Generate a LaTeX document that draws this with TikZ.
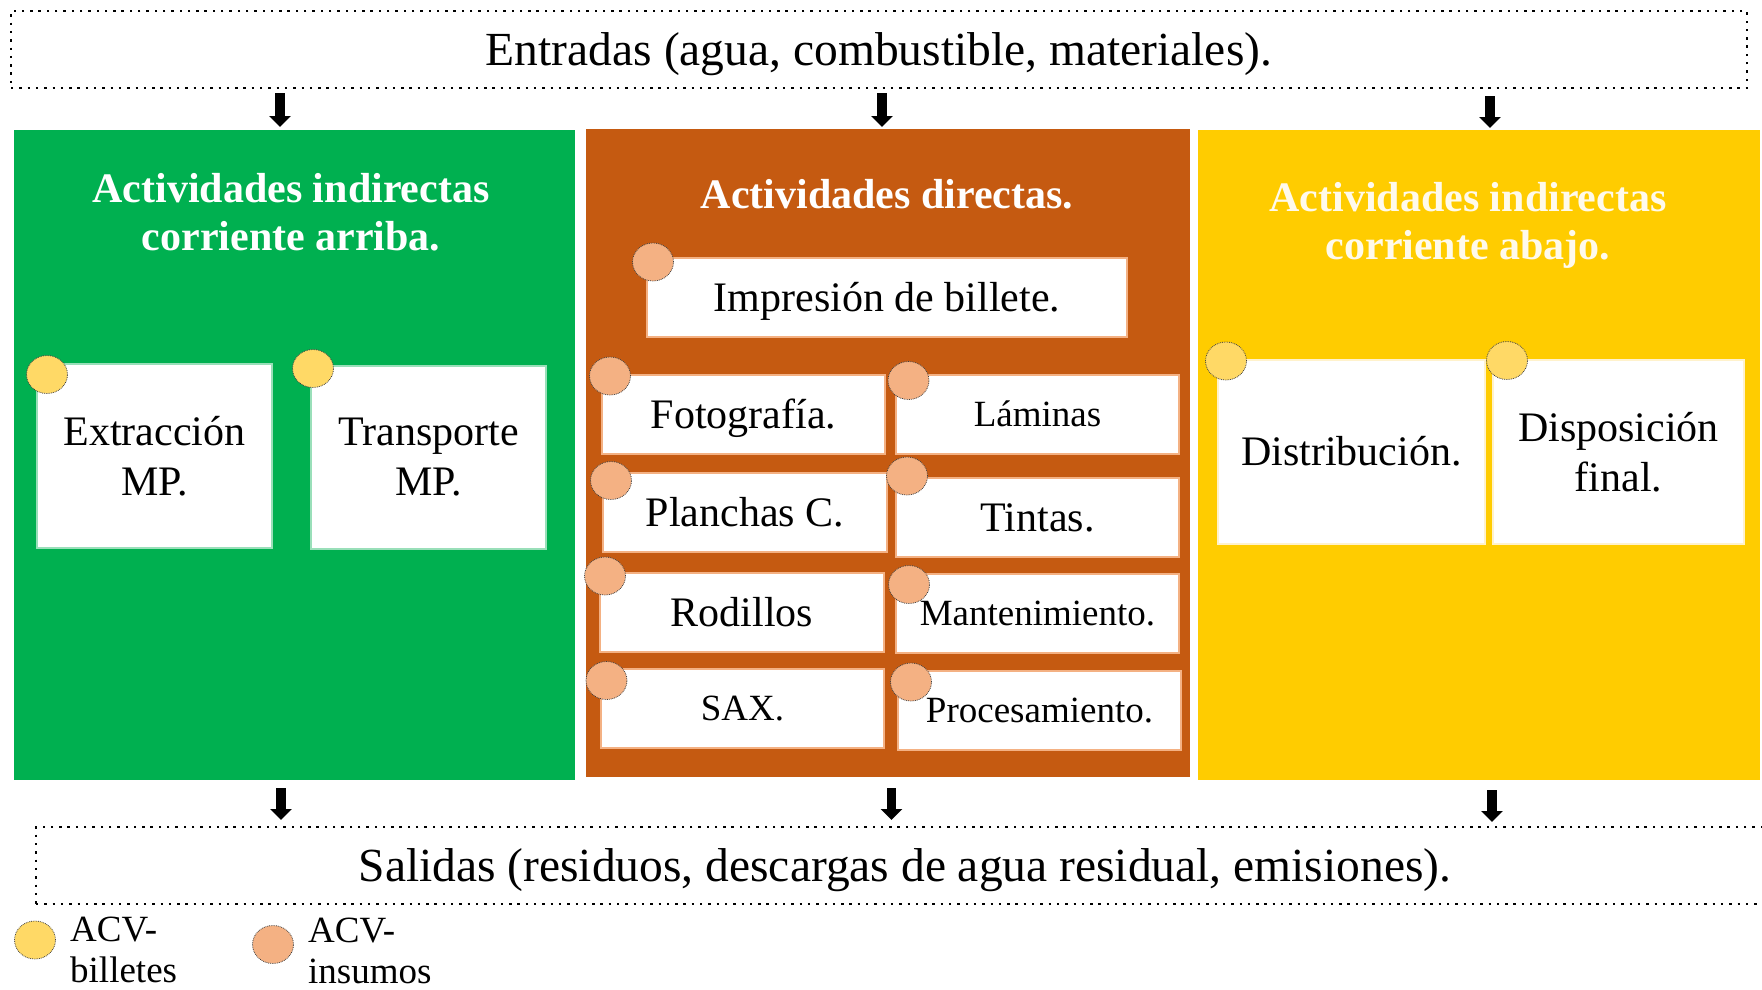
\documentclass[tikz,border=0pt]{standalone}
\usepackage{fontspec}
\setmainfont{Liberation Serif}
\usetikzlibrary{shapes.geometric,arrows.meta}
\definecolor{cgreen}{HTML}{00B050}
\definecolor{corange}{HTML}{C55A11}
\definecolor{cyellow}{HTML}{FFCC00}
\definecolor{cyelc}{HTML}{FFD966}
\definecolor{corac}{HTML}{F4B183}
\definecolor{ctitle}{HTML}{FFFAEB}
\definecolor{cyelb}{HTML}{FFF2CC}
\newcommand\fsz[2]{\fontsize{#1}{#2}\selectfont}
\begin{document}
\begin{tikzpicture}[x=1pt,y=-1pt,
  panel/.style={inner sep=0pt, outer sep=0pt, draw=none},
  dotbox/.style={draw=black, line width=2.4pt, dash pattern=on 2.4pt off 5.9pt, inner sep=0pt, font=\fsz{47.5}{56}, text height=31.4pt, text depth=0pt},
  wbox/.style={fill=white, draw=#1, line width=1.2pt, inner sep=0pt, outer sep=0pt, minimum height=79pt, align=center, font=\fsz{42}{50}},
  one/.style={text height=#1, text depth=0pt},
  small/.style={font=\fsz{37}{44}},
  ttl/.style={text=white, font=\fsz{42}{48}\bfseries, align=center, inner sep=0pt},
  dotc/.style={ellipse, minimum width=41pt, minimum height=38pt, inner sep=0pt, fill=#1, draw=black!75, densely dotted, line width=0.8pt},
  bigarrow/.style={line width=9.5pt, -{Triangle[width=21pt,length=11pt]}},
  legtxt/.style={font=\fsz{37}{41}, align=left, inner sep=0pt, anchor=west}
]
\path[use as bounding box] (0,0) rectangle (1762,989);
\clip (0,0) rectangle (1762,989);

% top and bottom boxes
\node[dotbox, minimum width=1736pt, minimum height=77pt] (entr) at (879,49.5) {Entradas (agua, combustible, materiales).};
\node[dotbox, minimum width=1738pt, minimum height=77pt] (sal) at (905,865.5) {Salidas (residuos, descargas de agua residual, emisiones).};

% panels
\node[panel, fill=cgreen, minimum width=561pt, minimum height=650pt] (green) at (294.5,455) {};
\node[panel, fill=corange, minimum width=604pt, minimum height=648pt] (orange) at (888,453) {};
\node[panel, fill=cyellow, minimum width=562pt, minimum height=650pt] (yellow) at (1479,455) {};

% titles
\node[ttl] (tgreen) at (291,212) {Actividades indirectas\\corriente arriba.};
\node[ttl, one=27.7pt] (torange) at (887,194.5) {Actividades directas.};
\node[ttl, text=ctitle] (tyellow) at (1468,225) {Actividades indirectas\\corriente abajo.};

% green boxes
\node[wbox=cgreen!40!white, minimum width=235pt, minimum height=184pt] (ext) at (154.5,456) {Extracción\\MP.};
\node[wbox=cgreen!40!white, minimum width=235pt, minimum height=183pt] (tra) at (428.5,457.5) {Transporte\\MP.};

% orange boxes
\node[wbox=corac, one=27.7pt, minimum width=480pt] (imp) at (887,297.5) {Impresión de billete.};
\node[wbox=corac, one=27.7pt, minimum width=283pt] (fot) at (743.5,414.5) {Fotografía.};
\node[wbox=corac, small, one=24.4pt, minimum width=283pt] (lam) at (1037.5,414.5) {Láminas};
\node[wbox=corac, one=27.7pt, minimum width=284pt] (pla) at (745,512.5) {Planchas C.};
\node[wbox=corac, one=27.7pt, minimum width=283pt] (tin) at (1037.5,517.5) {Tintas.};
\node[wbox=corac, one=27.7pt, minimum width=284pt] (rod) at (742,612.5) {Rodillos};
\node[wbox=corac, small, one=24.4pt, minimum width=283pt] (man) at (1037.5,613.5) {Mantenimiento.};
\node[wbox=corac, small, one=24.4pt, minimum width=283pt] (sax) at (742.5,708.5) {SAX.};
\node[wbox=corac, small, one=24.4pt, minimum width=283pt] (pro) at (1039.5,710.5) {Procesamiento.};

% yellow boxes
\node[wbox=cyelb, one=27.7pt, minimum width=267pt, minimum height=184pt] (dis) at (1351.5,452) {Distribución.};
\node[wbox=cyelb, minimum width=251pt, minimum height=184pt] (dfi) at (1618.5,452) {Disposición\\final.};

% markers
\node[dotc=cyelc] (cext) at (47,374.5) {};
\node[dotc=cyelc] (ctra) at (313,368.5) {};
\node[dotc=corac] (cimp) at (653,262) {};
\node[dotc=corac] (cfot) at (610,376) {};
\node[dotc=corac] (clam) at (908.5,380.5) {};
\node[dotc=corac] (cpla) at (611,480.5) {};
\node[dotc=corac] (ctin) at (907,476) {};
\node[dotc=corac] (crod) at (605,576) {};
\node[dotc=corac] (cman) at (909,584.5) {};
\node[dotc=corac] (csax) at (606.5,680.5) {};
\node[dotc=corac] (cpro) at (911,682) {};
\node[dotc=cyelc] (cdis) at (1226,361) {};
\node[dotc=cyelc] (cdfi) at (1507,360.5) {};

% arrows
\coordinate (a1s) at (280,93);   \coordinate (a1e) at (280,127);
\coordinate (a2s) at (882,93);   \coordinate (a2e) at (882,127);
\coordinate (a3s) at (1490,96);  \coordinate (a3e) at (1490,128);
\coordinate (b1s) at (281,788);  \coordinate (b1e) at (281,820);
\coordinate (b2s) at (891.5,788);\coordinate (b2e) at (891.5,820);
\coordinate (b3s) at (1492,790); \coordinate (b3e) at (1492,822);
\draw[bigarrow] (a1s) -- (a1e);
\draw[bigarrow] (a2s) -- (a2e);
\draw[bigarrow] (a3s) -- (a3e);
\draw[bigarrow] (b1s) -- (b1e);
\draw[bigarrow] (b2s) -- (b2e);
\draw[bigarrow] (b3s) -- (b3e);

% legend
\node[dotc=cyelc] (lg1) at (35,940) {};
\node[legtxt] (lt1) at (70,950) {ACV-\\billetes};
\node[dotc=corac] (lg2) at (273,944.5) {};
\node[legtxt] (lt2) at (308,951) {ACV-\\insumos};
\end{tikzpicture}
\end{document}
